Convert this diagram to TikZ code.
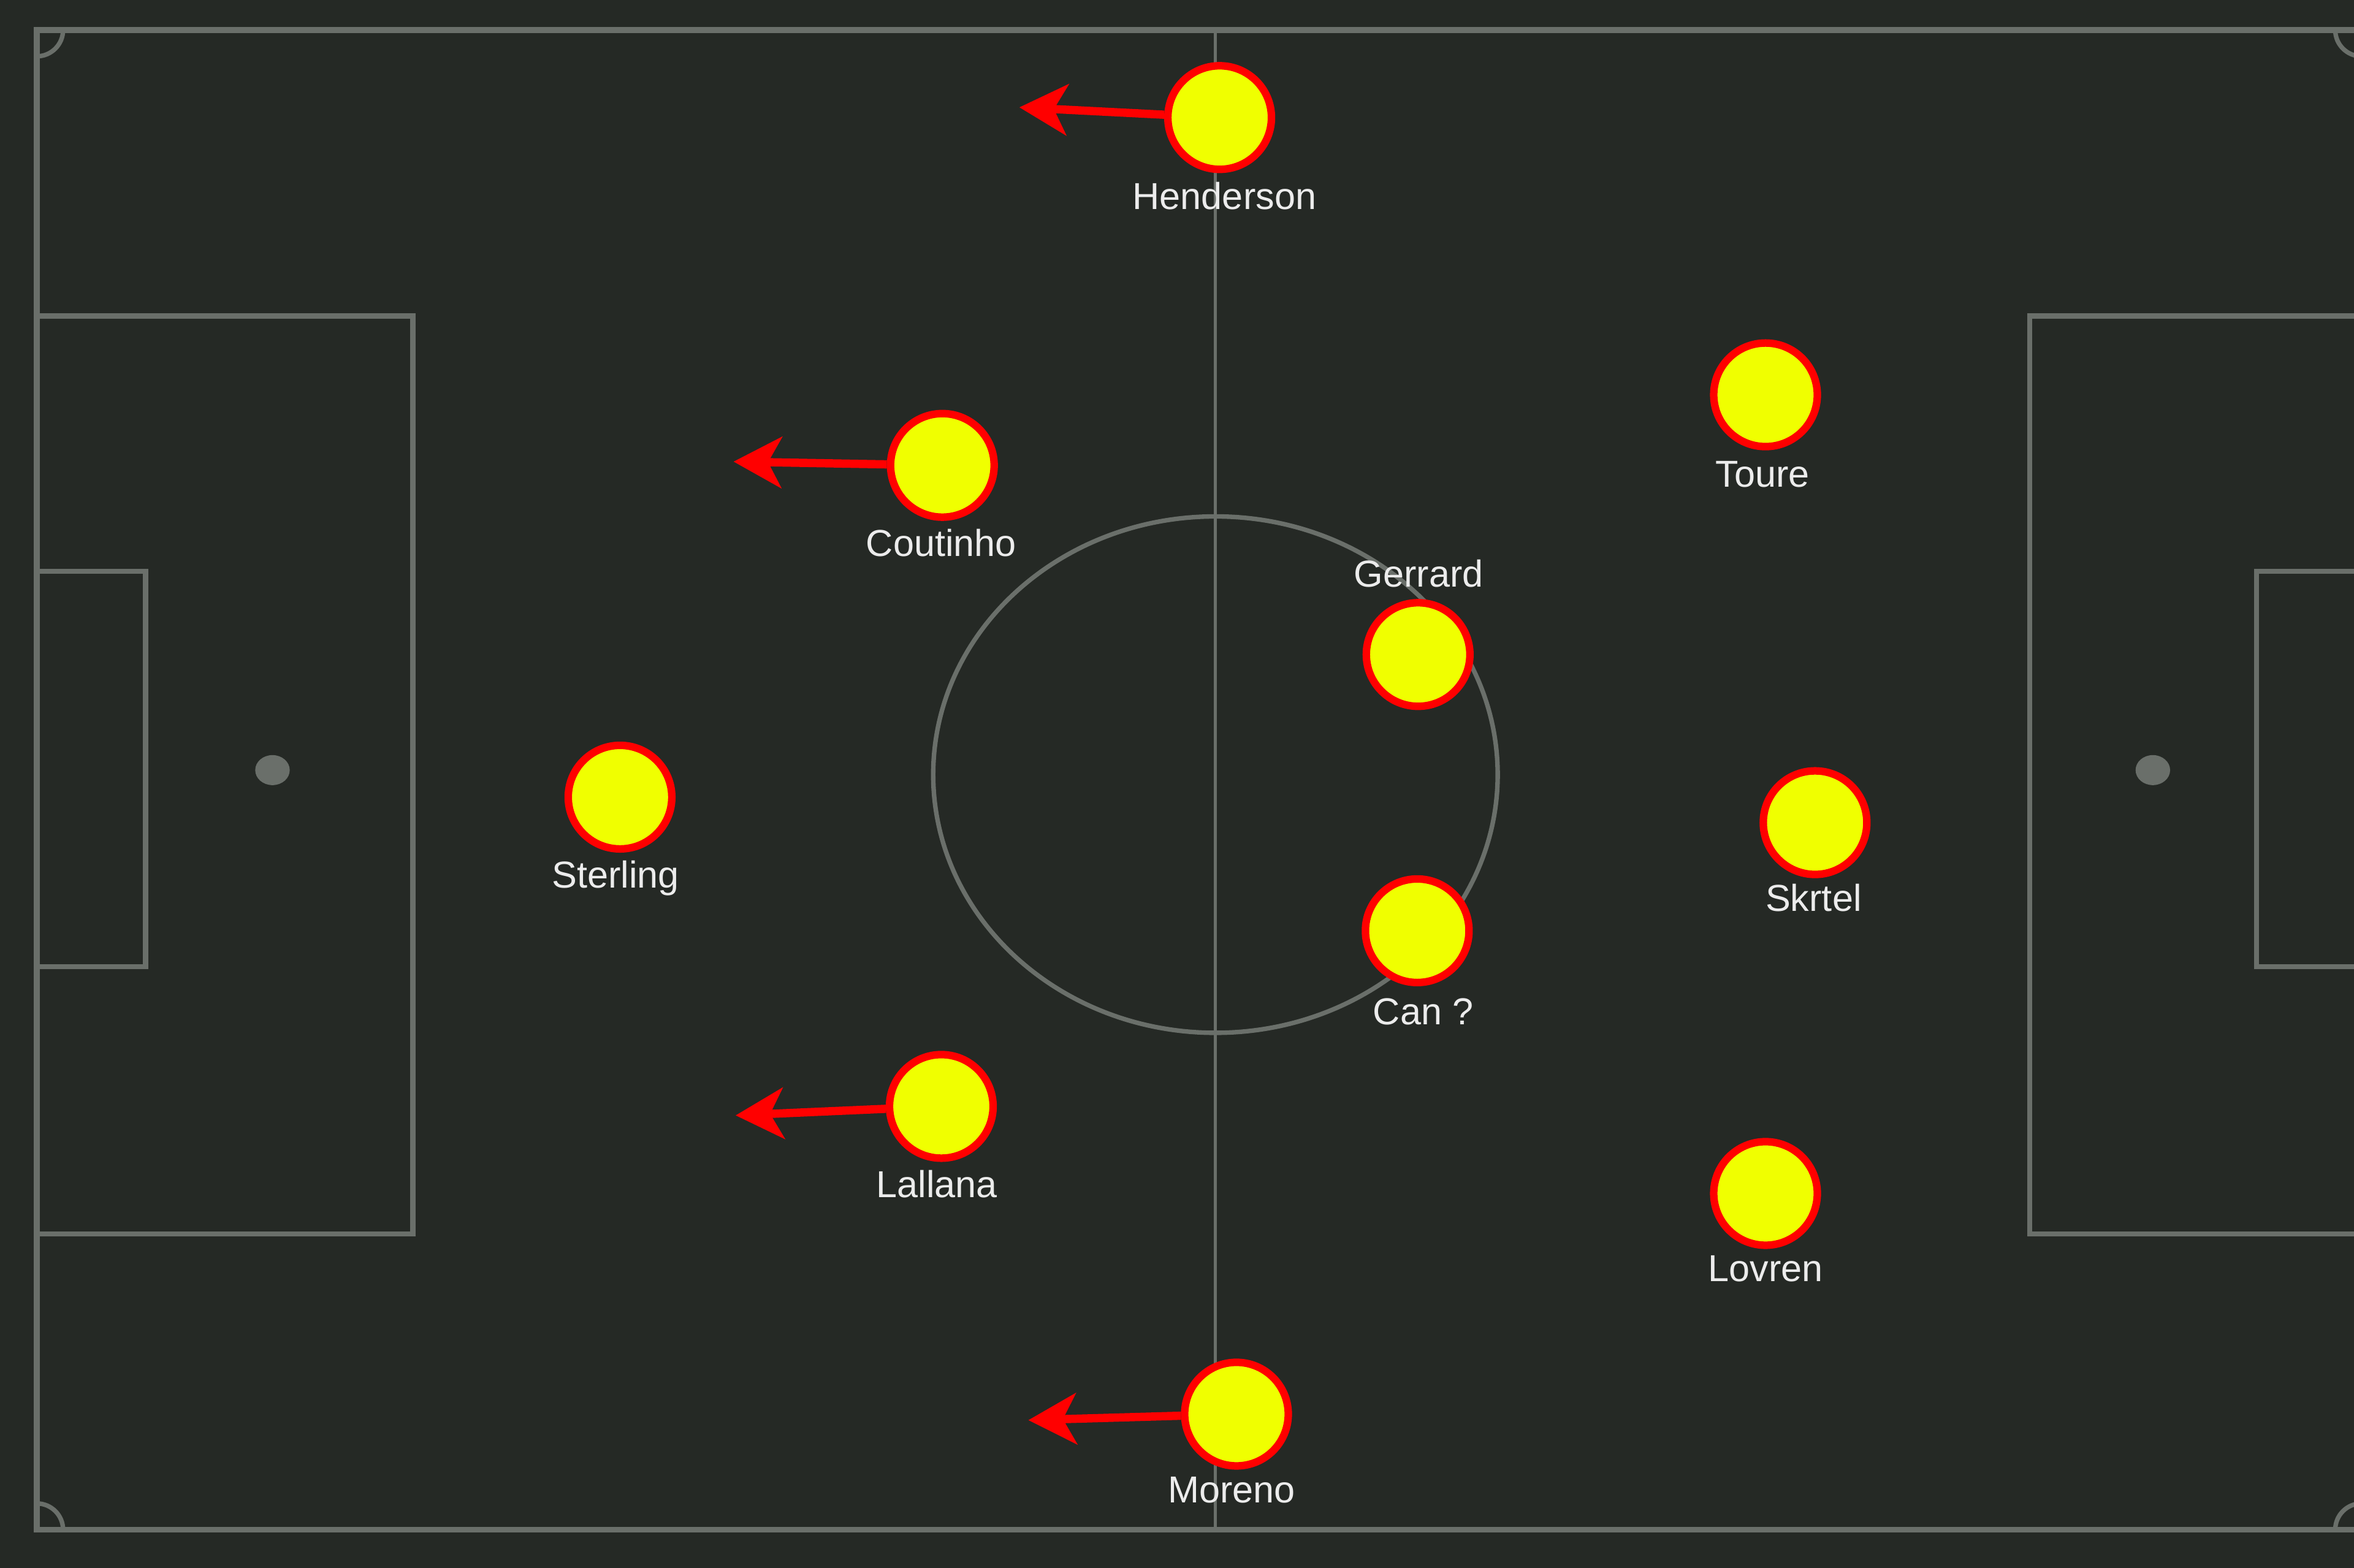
\documentclass[tikz,border=0pt]{standalone}
\usepackage{fontspec}
\setmainfont{Liberation Sans}
\usetikzlibrary{arrows.meta}
\definecolor{bg}{RGB}{37,41,37}
\definecolor{pline}{RGB}{106,111,106}
\definecolor{pyel}{RGB}{240,255,0}
\definecolor{pred}{RGB}{255,0,0}
\definecolor{ptxt}{RGB}{236,236,236}
\begin{document}
\begin{tikzpicture}[x=1pt,y=-1pt,
  pitch/.style={draw=pline, line width=4pt},
  player/.style={circle, draw=pred, fill=pyel, line width=5pt, minimum size=69pt, inner sep=0pt},
  lbl/.style={text=ptxt, font=\fontsize{25}{30}\selectfont, anchor=base, inner sep=0pt},
  run/.style={draw=pred, line width=5.5pt, -{Stealth[length=32pt,width=34pt,inset=9pt]}}]
% background and bounding box
\fill[bg] (0,0) rectangle (1568,1044.5);
\useasboundingbox (0,0) rectangle (1568,1044.5);
\begin{scope}
\clip (0,0) rectangle (1568,1044.5);
% outer lines
\draw[pitch] (24.5,20) rectangle (1573,1019);
\draw[pitch, line width=2pt] (809.6,20) -- (809.6,1019);
\draw[pitch, line width=3pt] (809.6,516) ellipse [x radius=188, y radius=172];
% left end
\draw[pitch, line width=3.5pt] (24.5,210.5) rectangle (275,822);
\draw[pitch, line width=3.5pt] (24.5,380.5) rectangle (97,644);
\fill[pline] (181.5,513) ellipse [x radius=11.5, y radius=10];
% right end
\draw[pitch, line width=3.5pt] (1352,210.5) rectangle (1580,822);
\draw[pitch, line width=3.5pt] (1503,380.5) rectangle (1580,644);
\fill[pline] (1434,513) ellipse [x radius=11.5, y radius=10];
% corner arcs
\draw[pitch, line width=3pt] (42,20) arc[start angle=0, end angle=90, radius=17.5];
\draw[pitch, line width=3pt] (42,1019) arc[start angle=0, end angle=-90, radius=17.5];
\draw[pitch, line width=3pt] (1555.5,20) arc[start angle=180, end angle=90, radius=17.5];
\draw[pitch, line width=3pt] (1555.5,1019) arc[start angle=180, end angle=270, radius=17.5];
\end{scope}
% players
\node[player] (hen) at (812.4,78.3) {};
\node[player] (cou) at (627.7,310) {};
\node[player] (ste) at (413,531) {};
\node[player] (lal) at (627,737) {};
\node[player] (mor) at (823.6,942) {};
\node[player] (ger) at (944.6,436) {};
\node[player] (can) at (944,620) {};
\node[player] (tou) at (1176,263) {};
\node[player] (skr) at (1209,548) {};
\node[player] (lov) at (1176,795) {};
% run targets
\coordinate (henT) at (679,71.5);
\coordinate (couT) at (488.6,307.5);
\coordinate (lalT) at (490,743);
\coordinate (morT) at (685,946);
\draw[run] (hen) -- (henT);
\draw[run] (cou) -- (couT);
\draw[run] (lal) -- (lalT);
\draw[run] (mor) -- (morT);
% labels
\node[lbl] (henL) at (815.6,139.5) {Henderson};
\node[lbl] (couL) at (627,370.5) {Coutinho};
\node[lbl] (steL) at (410,591.5) {Sterling};
\node[lbl] (lalL) at (624,797.5) {Lallana};
\node[lbl] (morL) at (820.4,1001) {Moreno};
\node[lbl] (gerL) at (945,391) {Gerrard};
\node[lbl] (canL) at (948,682.5) {Can ?};
\node[lbl] (touL) at (1174,324.5) {Toure};
\node[lbl] (skrL) at (1208,607) {Skrtel};
\node[lbl] (lovL) at (1176,853.5) {Lovren};
\end{tikzpicture}
\end{document}
